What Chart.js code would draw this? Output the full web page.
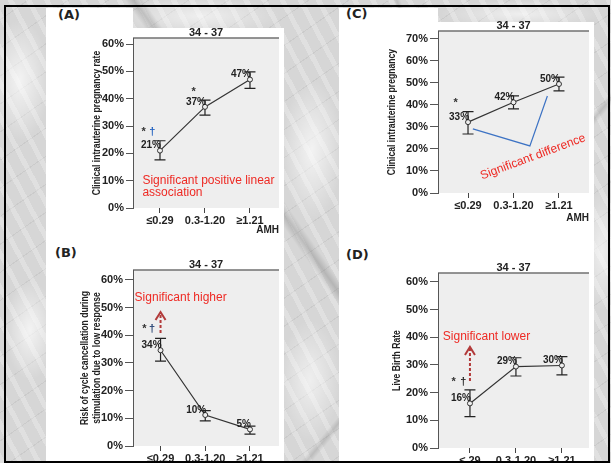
<!DOCTYPE html>
<html>
<head>
<meta charset="utf-8">
<script src="https://cdn.jsdelivr.net/npm/chart.js@4.4.1/dist/chart.umd.min.js"></script>
<style>
  html, body { margin: 0; padding: 0; }
  body {
    width: 611px; height: 463px; position: relative; overflow: hidden;
    background-color: #d6d6d6;
    background-image:
      linear-gradient(55deg, rgba(0,0,0,0) 48%, rgba(120,120,120,0.35) 49%, rgba(0,0,0,0) 50%),
      linear-gradient(-50deg, rgba(0,0,0,0) 30%, rgba(130,130,130,0.3) 30.6%, rgba(0,0,0,0) 31.2%),
      linear-gradient(70deg, rgba(0,0,0,0) 72%, rgba(140,140,140,0.3) 72.5%, rgba(0,0,0,0) 73%),
      radial-gradient(ellipse 30px 60px at 20px 80px, rgba(255,255,255,0.7), rgba(255,255,255,0)),
      radial-gradient(ellipse 25px 50px at 30px 330px, rgba(255,255,255,0.7), rgba(255,255,255,0)),
      radial-gradient(ellipse 30px 70px at 312px 150px, rgba(255,255,255,0.7), rgba(255,255,255,0)),
      radial-gradient(ellipse 30px 60px at 310px 380px, rgba(255,255,255,0.6), rgba(255,255,255,0)),
      radial-gradient(ellipse 20px 60px at 602px 250px, rgba(255,255,255,0.6), rgba(255,255,255,0)),
      radial-gradient(ellipse 80px 20px at 200px 16px, rgba(255,255,255,0.6), rgba(255,255,255,0)),
      radial-gradient(ellipse 80px 14px at 520px 14px, rgba(255,255,255,0.6), rgba(255,255,255,0)),
      repeating-linear-gradient(62deg, rgba(255,255,255,0.25) 0 5px, rgba(255,255,255,0) 5px 16px),
      repeating-linear-gradient(-35deg, rgba(120,120,120,0.12) 0 1px, rgba(0,0,0,0) 1px 23px);
  }
  .sheet { position: absolute; background: #fff; }
  .tag { position: absolute; font: bold 13px "DejaVu Sans", sans-serif; color: #222; line-height: 14px; }
  canvas { position: absolute; }
  #frame { position: absolute; left: 4px; top: 5px; width: 606px; height: 458px; border: 2px solid #000; box-sizing: border-box; }
</style>
</head>
<body>
<div class="sheet" style="left:46px;top:8px;width:87px;height:453px"></div>
<div class="sheet" style="left:133px;top:28px;width:151px;height:433px"></div>
<div class="sheet" style="left:339px;top:8px;width:99px;height:453px"></div>
<div class="sheet" style="left:438px;top:22px;width:156px;height:439px"></div>

<div class="tag" style="left:58px;top:8px">(A)</div>
<div class="tag" style="left:346px;top:7px">(C)</div>
<div class="tag" style="left:55px;top:246px">(B)</div>
<div class="tag" style="left:346px;top:248px">(D)</div>

<canvas id="chartA" width="238" height="227" style="left:46px;top:8px"></canvas>
<canvas id="chartB" width="238" height="228" style="left:46px;top:235px"></canvas>
<canvas id="chartC" width="255" height="215" style="left:339px;top:8px"></canvas>
<canvas id="chartD" width="255" height="228" style="left:339px;top:235px"></canvas>
<div id="frame"></div>

<script>
// AMH groups
const amhGroups = ['≤0.29', '0.3-1.20', '≥1.21'];
const amhGroupsD = ['≤.29', '0.3-1.20', '≥1.21'];

// (A) clinical intrauterine pregnancy rate
const pregRate = [21, 37, 47];
const pregLow = [17.6, 34, 43.8];
const pregHigh = [24.6, 39.5, 49.8];
const pregText = ['21%', '37%', '47%'];

// (B) cycle cancellation
const cancelRate = [34.6, 11.2, 6.0];
const cancelLow = [30.7, 9.1, 4.3];
const cancelHigh = [38.9, 12.8, 7.2];
const cancelText = ['34%', '10%', '5%'];

// (C) clinical intrauterine pregnancy
const clinRate = [32.2, 41.2, 49.5];
const clinLow = [26.8, 38.2, 46.4];
const clinHigh = [37, 44.1, 52.6];
const clinText = ['33%', '42%', '50%'];

// (D) live birth rate
const liveRate = [16.1, 29.4, 29.8];
const liveLow = [11.3, 26.0, 26.4];
const liveHigh = [21, 32.6, 33];
const liveText = ['16%', '29%', '30%'];

const yTicks60 = [0, 10, 20, 30, 40, 50, 60];
const yTicks70 = [0, 10, 20, 30, 40, 50, 60, 70];

const SANS = '"Liberation Sans", Arial, sans-serif';
const RED = '#ee2a24';
const DARKRED = '#b23a3a';

const panelDecor = {
  id: 'panelDecor',
  beforeDraw(chart, args, o) {
    const { ctx, chartArea: a } = chart;
    ctx.save();
    ctx.fillStyle = '#eeeeee';
    ctx.fillRect(a.left, a.top, a.right - a.left, a.bottom - a.top);
    ctx.strokeStyle = '#707070';
    ctx.lineWidth = 1.5;
    ctx.beginPath();
    ctx.moveTo(a.left, a.top);
    ctx.lineTo(a.right, a.top);
    ctx.stroke();
    ctx.fillStyle = '#222';
    ctx.font = 'bold 11px ' + SANS;
    ctx.textAlign = 'center';
    ctx.textBaseline = 'alphabetic';
    ctx.fillText('34 - 37', (a.left + a.right) / 2, a.top - 2);
    ctx.restore();
  },
  beforeDatasetsDraw(chart, args, o) {
    const { ctx, scales: { x, y } } = chart;
    ctx.save();
    ctx.strokeStyle = '#222';
    ctx.lineWidth = 1.2;
    o.low.forEach((lo, i) => {
      const px = x.getPixelForValue(i);
      const y0 = y.getPixelForValue(lo), y1 = y.getPixelForValue(o.high[i]);
      ctx.beginPath();
      ctx.moveTo(px, y0); ctx.lineTo(px, y1);
      ctx.moveTo(px - 5.5, y0); ctx.lineTo(px + 5.5, y0);
      ctx.moveTo(px - 5.5, y1); ctx.lineTo(px + 5.5, y1);
      ctx.stroke();
    });
    ctx.restore();
  },
  afterDatasetsDraw(chart, args, o) {
    const { ctx, chartArea: a, scales: { x, y } } = chart;
    const meta = chart.getDatasetMeta(0);
    ctx.save();
    // value labels
    ctx.fillStyle = '#222';
    ctx.font = 'bold 10px ' + SANS;
    ctx.textAlign = 'right';
    ctx.textBaseline = 'middle';
    meta.data.forEach((pt, i) => {
      ctx.fillText(o.text[i], pt.x + 1, pt.y - 5);
    });
    // y axis title, condensed like the original
    ctx.font = 'bold 10.5px ' + SANS;
    ctx.textAlign = 'center';
    [].concat(o.yTitle).forEach((line, k) => {
      ctx.save();
      ctx.translate(o.titleX + k * 12, (a.top + a.bottom) / 2);
      ctx.rotate(-Math.PI / 2);
      ctx.scale(0.82, 1);
      ctx.fillText(line, 0, 0);
      ctx.restore();
    });
    // notes
    (o.notes || []).forEach(n => {
      const px = x.getPixelForValue(n.x);
      if (n.kind === 'text') {
        const py = y.getPixelForValue(n.y);
        ctx.save();
        ctx.translate(px, py);
        if (n.rot) ctx.rotate(n.rot * Math.PI / 180);
        ctx.fillStyle = n.color;
        ctx.font = n.font;
        ctx.textAlign = n.align || 'left';
        ctx.textBaseline = 'middle';
        ctx.fillText(n.text, 0, 0);
        ctx.restore();
      } else if (n.kind === 'arrow') {
        const yb = y.getPixelForValue(n.y0), yt = y.getPixelForValue(n.y1);
        ctx.strokeStyle = DARKRED;
        ctx.lineWidth = 2;
        ctx.setLineDash([3, 2]);
        ctx.beginPath(); ctx.moveTo(px, yb); ctx.lineTo(px, yt + 2); ctx.stroke();
        ctx.setLineDash([]);
        ctx.beginPath();
        ctx.moveTo(px - 5, yt + 8); ctx.lineTo(px, yt); ctx.lineTo(px + 5, yt + 8);
        ctx.stroke();
      } else if (n.kind === 'poly') {
        ctx.strokeStyle = '#3d73c4';
        ctx.lineWidth = 1.2;
        ctx.beginPath();
        n.pts.forEach((p, k) => {
          const qx = x.getPixelForValue(p[0]), qy = y.getPixelForValue(p[1]);
          if (k === 0) ctx.moveTo(qx, qy); else ctx.lineTo(qx, qy);
        });
        ctx.stroke();
      }
    });
    ctx.restore();
  }
};

function mark(xv, yv, t, color) {
  return { kind: 'text', x: xv, y: yv, text: t, color: color, font: 'bold 11px ' + SANS };
}
function note(xv, yv, t, rot) {
  return { kind: 'text', x: xv, y: yv, text: t, color: RED, font: '12px ' + SANS, rot: rot };
}

function makePanel(id, p) {
  return new Chart(document.getElementById(id), {
    type: 'line',
    data: {
      datasets: [{
        data: p.values.map((v, i) => ({ x: i, y: v })),
        borderColor: '#333',
        borderWidth: 1.2,
        pointRadius: 2.5,
        pointBackgroundColor: '#eee',
        pointBorderColor: '#333',
        pointBorderWidth: 1,
        tension: 0
      }]
    },
    options: {
      responsive: false,
      animation: false,
      layout: { padding: { left: p.chartLeft - p.yWidth, top: p.padTop, right: 0, bottom: 0 } },
      plugins: {
        legend: { display: false },
        tooltip: { enabled: false },
        panelDecor: { low: p.low, high: p.high, text: p.text, notes: p.notes, yTitle: p.yTitle, titleX: p.titleX }
      },
      scales: {
        x: {
          type: 'linear',
          min: p.xMin, max: p.xMax,
          afterBuildTicks: s => { s.ticks = p.cats.map((c, i) => ({ value: i })); },
          afterFit: s => { s.height = p.xHeight; },
          ticks: {
            callback: v => p.cats[v],
            font: { family: SANS, size: 11, weight: 'bold' },
            color: '#222', padding: 1, autoSkip: false, maxRotation: 0
          },
          grid: { drawOnChartArea: false, tickLength: 5, color: '#444' },
          border: { display: false },
          title: {
            display: !!p.xTitle, text: p.xTitle, align: 'end', padding: 0, color: '#222',
            font: { family: SANS, size: 10, weight: 'bold', lineHeight: 1 }
          }
        },
        y: {
          min: 0, max: p.yMax,
          afterBuildTicks: s => { s.ticks = p.yTicks.map(v => ({ value: v })); },
          afterFit: s => { s.width = p.yWidth; },
          ticks: {
            callback: v => v + '%',
            font: { family: SANS, size: 11, weight: 'bold' },
            color: '#222', padding: 2
          },
          grid: { drawOnChartArea: false, tickLength: p.tick, color: '#555' },
          border: { color: '#555', width: 1 }
        }
      }
    },
    plugins: [panelDecor]
  });
}

makePanel('chartA', {
  cats: amhGroups, values: pregRate, low: pregLow, high: pregHigh, text: pregText,
  yTicks: yTicks60, yMax: 62.2, xMin: -0.6, xMax: 2.645,
  chartLeft: 87, padTop: 30, yWidth: 40, xHeight: 27, tick: 7, titleX: 51,
  yTitle: 'Clinical intrauterine pregnancy rate', xTitle: 'AMH',
  notes: [
    mark(-0.41, 27.8, '*', '#333'), mark(-0.24, 27.8, '†', '#1f5fbf'),
    mark(0.7, 42.4, '*', '#333'),
    note(-0.39, 9.9, 'Significant positive linear'),
    note(-0.39, 5.5, 'association')
  ]
});

makePanel('chartB', {
  cats: amhGroups, values: cancelRate, low: cancelLow, high: cancelHigh, text: cancelText,
  yTicks: yTicks60, yMax: 63.6, xMin: -0.616, xMax: 2.649,
  chartLeft: 87, padTop: 35, yWidth: 40, xHeight: 17, tick: 8, titleX: 39,
  yTitle: ['Risk of cycle cancellation during', 'stimulation due to low response'], xTitle: '',
  notes: [
    mark(-0.41, 42.3, '*', '#333'), mark(-0.26, 42.3, '†', '#1d3b6e'),
    { kind: 'arrow', x: 0, y0: 40.8, y1: 48.4 },
    note(-0.58, 53.5, 'Significant higher')
  ]
});

makePanel('chartC', {
  cats: amhGroups, values: clinRate, low: clinLow, high: clinHigh, text: clinText,
  yTicks: yTicks70, yMax: 73.6, xMin: -0.66, xMax: 2.66,
  chartLeft: 99, padTop: 23, yWidth: 40, xHeight: 30, tick: 8, titleX: 53,
  yTitle: 'Clinical intrauterine pregnancy', xTitle: 'AMH',
  notes: [
    mark(-0.32, 40.9, '*', '#333'),
    { kind: 'poly', pts: [[0.106, 29.1], [1.36, 21.4], [1.745, 44.1]] },
    { kind: 'text', x: 1.43, y: 16.4, text: 'Significant difference', color: RED, font: '12px ' + SANS, align: 'center', rot: -20.4 }
  ]
});

makePanel('chartD', {
  cats: amhGroupsD, values: liveRate, low: liveLow, high: liveHigh, text: liveText,
  yTicks: yTicks60, yMax: 63.2, xMin: -0.695, xMax: 2.589,
  chartLeft: 99, padTop: 38, yWidth: 40, xHeight: 15, tick: 8, titleX: 58,
  yTitle: 'Live Birth Rate', xTitle: '',
  notes: [
    mark(-0.4, 23.9, '*', '#333'), mark(-0.21, 23.9, '†', '#222'),
    { kind: 'arrow', x: 0, y0: 24.2, y1: 36.5 },
    note(-0.59, 40.1, 'Significant lower')
  ]
});
</script>
</body>
</html>
